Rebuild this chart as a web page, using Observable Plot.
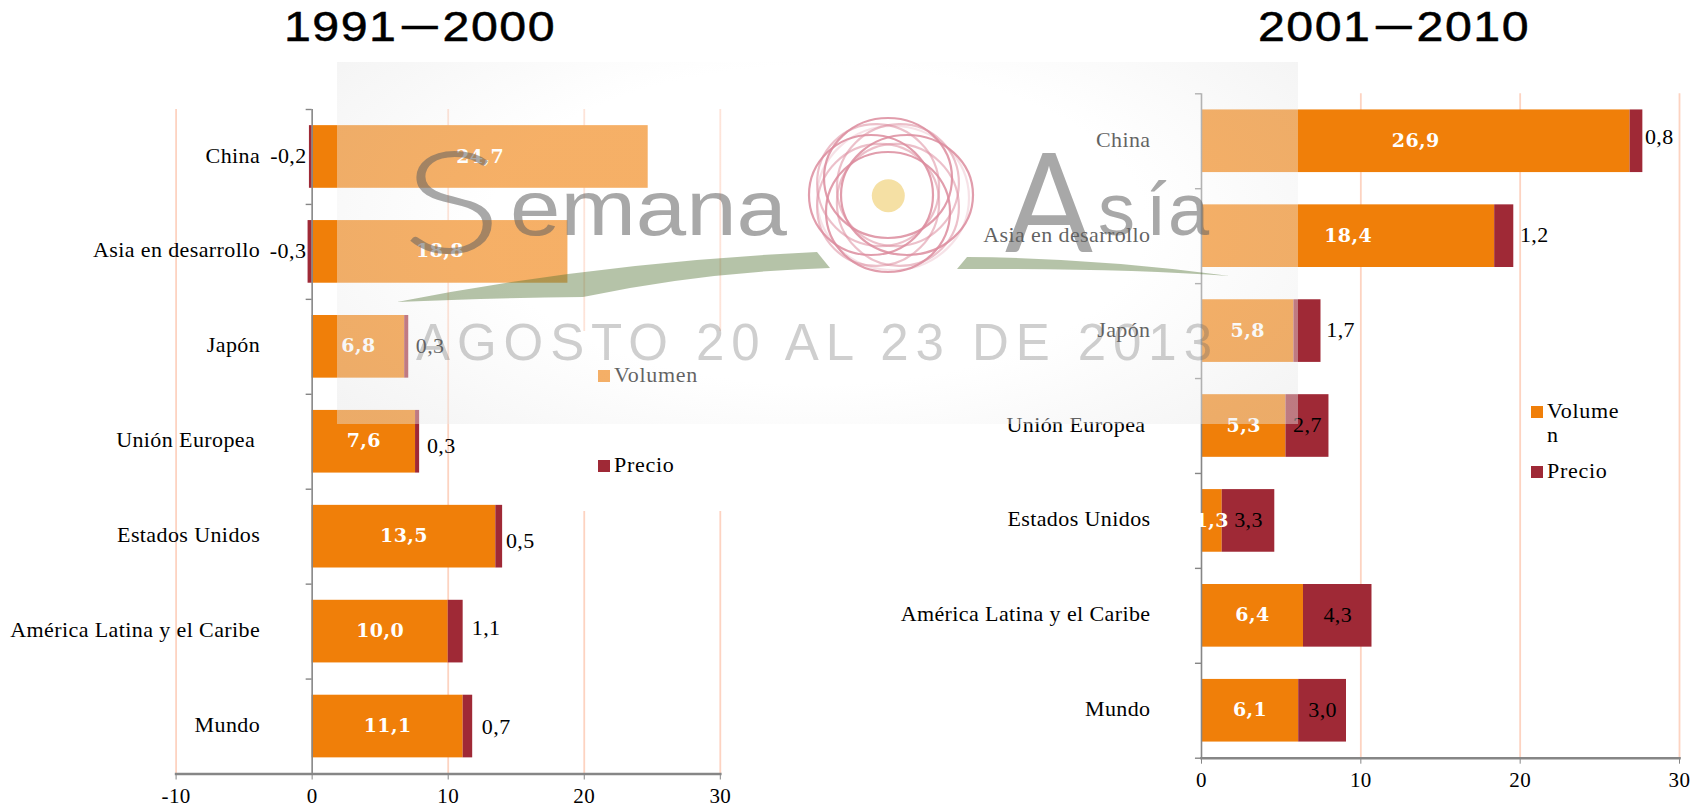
<!DOCTYPE html>
<html lang="es">
<head>
<meta charset="utf-8">
<script src="https://cdn.jsdelivr.net/npm/d3@7"></script>
<script src="https://cdn.jsdelivr.net/npm/@observablehq/plot@0.6"></script>
<style>
html,body{margin:0;padding:0;background:#fff;width:1704px;height:809px;overflow:hidden}
.abs{position:absolute}
.title{position:absolute;top:-3px;width:340px;text-align:center;font-family:"Liberation Sans",sans-serif;font-weight:400;font-size:42px;line-height:60px;letter-spacing:1.3px;color:#000;white-space:nowrap;transform:scaleX(1.15);-webkit-text-stroke:.5px #000}
.title span{font-size:31px;font-weight:700;position:relative;top:-5px;margin:0 3px 0 4px}
.leg{position:absolute;font-family:"Liberation Serif",serif;font-size:22px;letter-spacing:.7px;line-height:24px;color:#000;white-space:nowrap}
.sw{position:absolute;width:12px;height:12px}
svg text{letter-spacing:.4px}
#mark text{letter-spacing:0}
</style>
</head>
<body>
<div id="left" class="abs" style="left:0;top:0"></div>
<div id="right" class="abs" style="left:840px;top:0"></div>

<div class="title" style="left:250px">1991<span>—</span>2000</div>
<div class="title" style="left:1224px">2001<span>—</span>2010</div>

<div class="abs" style="left:570px;top:331px;width:175px;height:180px;background:#fff"></div>
<div class="sw" style="left:598px;top:370px;background:#F07F09"></div>
<div class="leg" style="left:614px;top:363px">Volumen</div>
<div class="sw" style="left:598px;top:460px;background:#9F2936"></div>
<div class="leg" style="left:614px;top:453px">Precio</div>

<div class="sw" style="left:1531px;top:406px;background:#F07F09"></div>
<div class="leg" style="left:1547px;top:399px">Volume<br>n</div>
<div class="sw" style="left:1531px;top:466px;background:#9F2936"></div>
<div class="leg" style="left:1547px;top:459px">Precio</div>

<div class="abs" style="left:337px;top:62px;width:961px;height:362px;background:radial-gradient(ellipse 62% 80% at 50% 45%,rgba(255,255,255,.38) 55%,rgba(230,230,230,.43) 100%)"></div>

<svg id="mark" class="abs" style="left:0;top:0" width="1704" height="809" viewBox="0 0 1704 809">
  <g fill="rgb(78,112,48)" fill-opacity=".42">
    <path d="M397,302 Q600,262 817,252 L830,268 Q700,272 583,297 Q480,298 397,302Z"/>
    <path d="M957,269 L967,257 Q1100,258 1230,276 Q1120,268 957,269Z"/>
  </g>
  <g font-family="Liberation Sans,sans-serif" fill="#606060" fill-opacity=".55">
    <text x="402" y="253" font-size="142" font-family="Lato,Liberation Sans" font-weight="300" textLength="100" lengthAdjust="spacingAndGlyphs">S</text>
    <text x="510" y="235" font-size="77" textLength="277" lengthAdjust="spacingAndGlyphs">emana</text>
    <text x="1005" y="252" font-size="138" font-family="Lato,Liberation Sans" font-weight="400" textLength="88" lengthAdjust="spacingAndGlyphs">A</text>
    <text x="1098 1146 1168" y="235" font-size="74">sía</text>
  </g>
  <text x="416" y="360" font-size="51" font-family="Liberation Sans,sans-serif" fill="#606060" fill-opacity=".3" textLength="796" lengthAdjust="spacing">AGOSTO 20 AL 23 DE 2013</text>
  <g fill="none" stroke="#DC8C9E" stroke-width="2.2" stroke-opacity=".85">
    <ellipse cx="871" cy="195" rx="62" ry="60"/>
    <ellipse cx="907" cy="195" rx="66" ry="60"/>
    <ellipse cx="888" cy="178" rx="64" ry="60"/>
    <ellipse cx="888" cy="212" rx="62" ry="60"/>
    <ellipse cx="888" cy="195" rx="62" ry="60" transform="rotate(45 888 195) translate(14 0)" stroke-opacity=".55"/>
    <ellipse cx="888" cy="195" rx="62" ry="60" transform="rotate(45 888 195) translate(-14 0)" stroke-opacity=".55"/>
    <ellipse cx="888" cy="195" rx="62" ry="60" transform="rotate(-45 888 195) translate(14 0)" stroke-opacity=".55"/>
    <ellipse cx="888" cy="195" rx="62" ry="60" transform="rotate(-45 888 195) translate(-14 0)" stroke-opacity=".55"/>
    <ellipse cx="893" cy="198" rx="76" ry="72" stroke-opacity=".25"/>
  </g>
  <circle cx="888.3" cy="195.7" r="16.5" fill="#F5E0A4"/>
</svg>

<script>
const categories = ["China", "Asia en desarrollo", "Japón", "Unión Europea", "Estados Unidos", "América Latina y el Caribe", "Mundo"];
const series = ["Volumen", "Precio"];
const volumen9100 = [24.7, 18.8, 6.8, 7.6, 13.5, 10.0, 11.1];
const precio9100  = [-0.2, -0.3, 0.3, 0.3, 0.5, 1.1, 0.7];
const volumen0110 = [26.9, 18.4, 5.8, 5.3, 1.3, 6.4, 6.1];
const precio0110  = [0.8, 1.2, 1.7, 2.7, 3.3, 4.3, 3.0];
const ticks9100 = [-10, 0, 10, 20, 30];
const ticks0110 = [0, 10, 20, 30];

const ORANGE = "#F07F09", RED = "#9F2936", GRID = "#FDD3C1", AXIS = "#868686";
const comma = d => d3.format(".1f")(d).replace(".", ",").replace("−", "-");

function chart({vol, pri, ticks, grid, domain, width, marginLeft, marginRight, marginTop, height, marginBottom, nudge, catDx, tickLen, tickPad}) {
  const bars = series.flatMap(s => categories.map((c, i) => ({cat: c, serie: s, value: s === "Volumen" ? vol[i] : pri[i]})));
  const idx = categories.map((c, i) => i);
  const step = (height - marginTop - marginBottom) / categories.length;
  const volLab = idx.map(i => ({cat: categories[i], x: vol[i] / 2, t: comma(vol[i])}));
  const priLab = idx.map(i => {
    const n = nudge[i];
    const base = pri[i] < 0 ? pri[i] : n ? vol[i] + pri[i] : vol[i] + pri[i] / 2;
    return {cat: categories[i], x: base, t: comma(pri[i]), dx: n ? n[0] : 0, dy: n ? n[1] : -1};
  });
  const catLab = idx.map(i => ({cat: categories[i], t: categories[i], dx: catDx - (categories[i] === "Unión Europea" ? 5 : 0)}));
  const font = {fontFamily: "Liberation Serif"};
  return Plot.plot({
    width, height, marginLeft, marginRight, marginTop, marginBottom,
    style: {background: "transparent", fontFamily: "Liberation Serif", fontSize: "21px", overflow: "visible"},
    x: {domain, ticks},
    y: {domain: categories, paddingInner: 0.34, paddingOuter: 0.17, round: false, axis: null},
    color: {domain: series, range: [ORANGE, RED]},
    marks: [
      Plot.ruleX(grid, {stroke: GRID, strokeWidth: 1.8}),
      Plot.barX(bars, {x: "value", y: "cat", fill: "serie"}),
      Plot.ruleX([0], {stroke: AXIS, strokeWidth: 1.6}),
      Plot.ruleY(categories, {y: d => d, x1: -tickLen, x2: 0, dy: step / 2, stroke: AXIS, strokeWidth: 1.4}),
      Plot.ruleY(categories.slice(0, 1), {y: d => d, x1: -tickLen, x2: 0, dy: -step / 2, stroke: AXIS, strokeWidth: 1.4}),
      Plot.frame({anchor: "bottom", stroke: AXIS, strokeWidth: 2.6}),
      Plot.axisX({ticks, tickSize: 6, tickPadding: tickPad, label: null, stroke: AXIS, fill: "#000", fontSize: 21, tickFormat: d => String(d).replace("−", "-")}),
      ...catLab.map(l => Plot.text([l], {x: () => 0, y: "cat", text: "t", dx: l.dx, dy: -1.5, textAnchor: "end", fill: "#000", fontSize: 22, ...font})),
      Plot.text(volLab, {x: "x", y: "cat", text: "t", dy: -0.5, fill: "#fff", fontSize: 19, fontWeight: 700, fontFamily: "DejaVu Serif"}),
      ...priLab.map(l => Plot.text([l], {x: "x", y: "cat", text: "t", dx: l.dx, dy: l.dy, fill: "#000", fontSize: 22, ...font}))
    ]
  });
}

/* label nudges [dx, dy] for prices set off from the bar; null = centred in its segment */
const nudge9100 = [[-21, -1], [-20, -1], [21.4, -1], [21.6, 4], [17.6, 4], [23, -3.5], [23.5, 0]];
const nudge0110 = [[16.4, -4], [20.5, -1], [19.6, -1], null, null, null, null];

document.getElementById("left").append(chart({
  vol: volumen9100, pri: precio9100, ticks: ticks9100, grid: [-10, 10, 20, 30], domain: [-10, 30],
  width: 780, height: 809, marginLeft: 175.6, marginRight: 60.2, marginTop: 109, marginBottom: 35.5,
  nudge: nudge9100, catDx: -52, tickLen: 0.44, tickPad: 8
}));
document.getElementById("right").append(chart({
  vol: volumen0110, pri: precio0110, ticks: ticks0110, grid: [10, 20, 30], domain: [0, 30],
  width: 864, height: 800, marginLeft: 361, marginRight: 25, marginTop: 93.3, marginBottom: 42.3,
  nudge: nudge0110, catDx: -51, tickLen: 0.38, tickPad: 8
}));
</script>
</body>
</html>
